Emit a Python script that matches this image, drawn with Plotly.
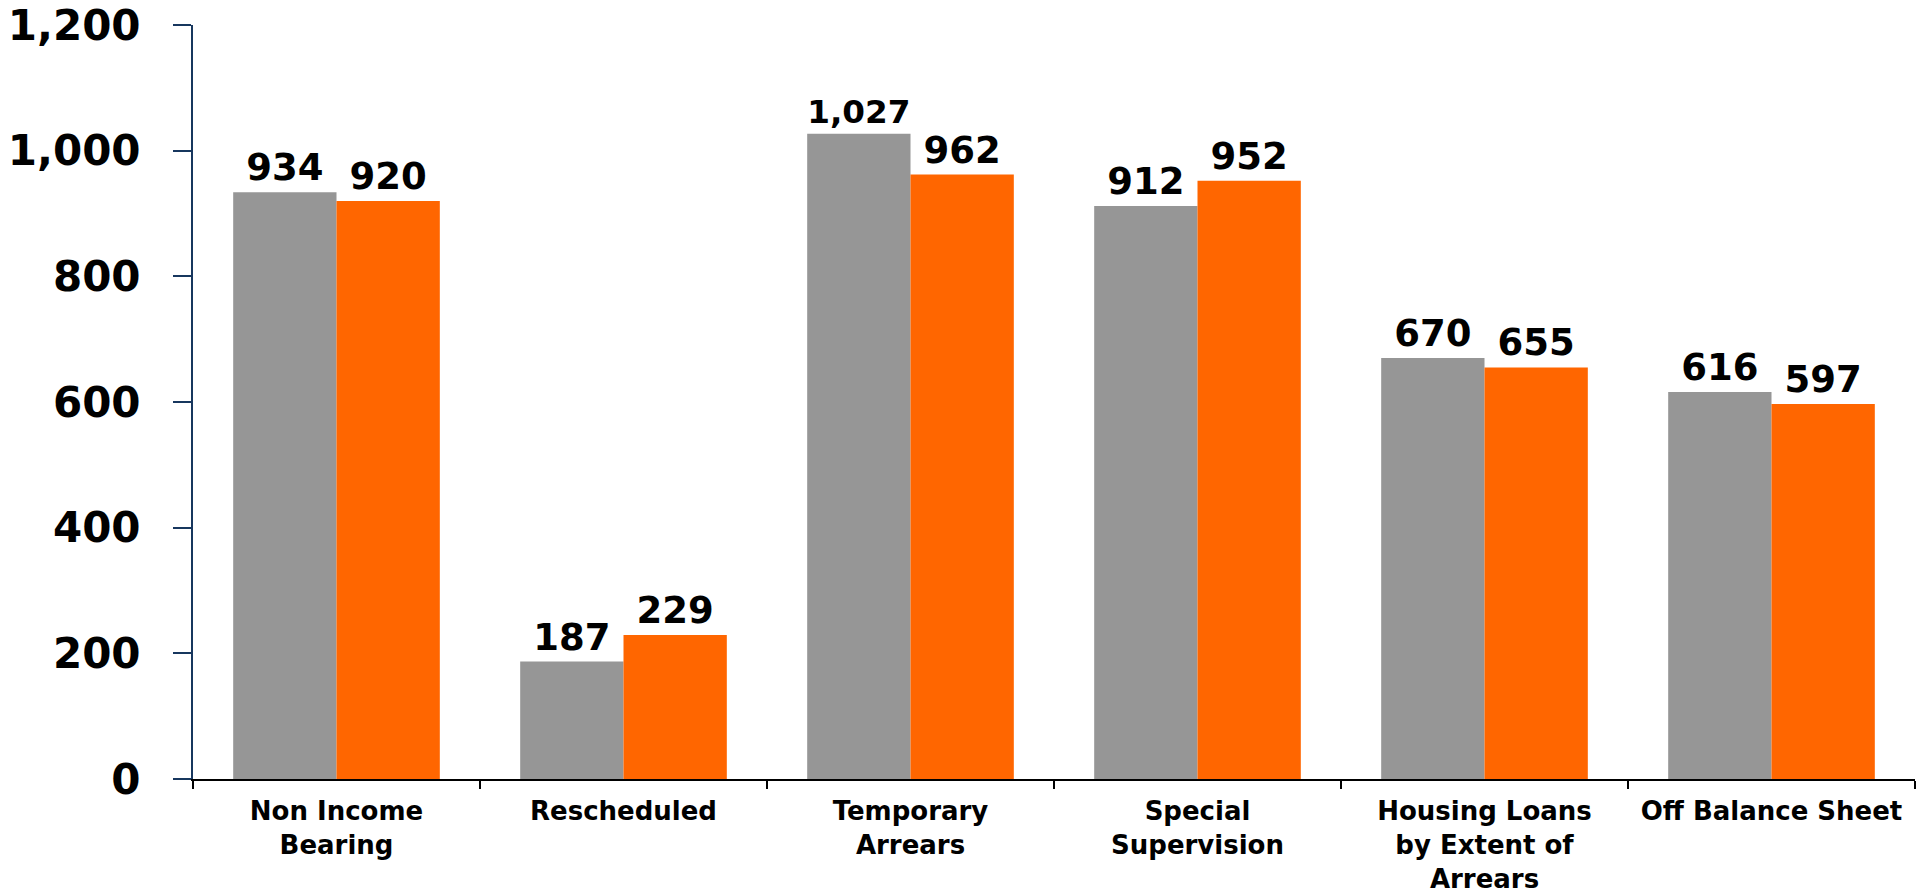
import plotly.graph_objects as go

categories = ["Non Income<br>Bearing", "Rescheduled", "Temporary<br>Arrears",
              "Special<br>Supervision", "Housing Loans<br>by Extent of<br>Arrears",
              "Off Balance Sheet"]
series_a = [934, 187, 1027, 912, 670, 616]
series_b = [920, 229, 962, 952, 655, 597]
y_ticks = [0, 200, 400, 600, 800, 1000, 1200]

FONT = "DejaVu Sans"

fig = go.Figure()
fig.add_trace(go.Bar(x=categories, y=series_a, marker_color="#969696",
                     marker_line_width=0, name="A",
                     texttemplate="%{y:,}", textposition="outside", cliponaxis=False,
                     textfont=dict(family=FONT, size=37, color="black", weight="bold")))
fig.add_trace(go.Bar(x=categories, y=series_b, marker_color="#FF6600",
                     marker_line_width=0, name="B",
                     texttemplate="%{y:,}", textposition="outside", cliponaxis=False,
                     textfont=dict(family=FONT, size=37, color="black", weight="bold")))

fig.update_layout(
    width=1928, height=895,
    margin=dict(l=193, r=13, t=25, b=116, autoexpand=False),
    barmode="group", bargap=0.28, bargroupgap=0,
    showlegend=False,
    plot_bgcolor="white", paper_bgcolor="white",
    uniformtext=dict(mode=False),
)
fig.update_yaxes(range=[0, 1200], tickvals=y_ticks, tickformat=",d",
                 automargin=False,
                 showgrid=False, zeroline=False,
                 showline=True, linecolor="#17375E", linewidth=2,
                 ticks="outside", ticklen=18, tickwidth=2, tickcolor="#17375E",
                 ticklabelstandoff=24,
                 tickfont=dict(family=FONT, size=42, color="black", weight="bold"))
fig.update_xaxes(showgrid=False, showline=True, linecolor="black", linewidth=2,
                 automargin=False,
                 ticks="outside", tickson="boundaries", ticklen=8, tickwidth=2,
                 tickcolor="black", ticklabelstandoff=8,
                 tickfont=dict(family=FONT, size=26, color="black", weight="bold"))

fig.write_html("out.html", config={"displayModeBar": False},
               post_script="document.body.style.margin='0';document.body.style.overflow='hidden';")
